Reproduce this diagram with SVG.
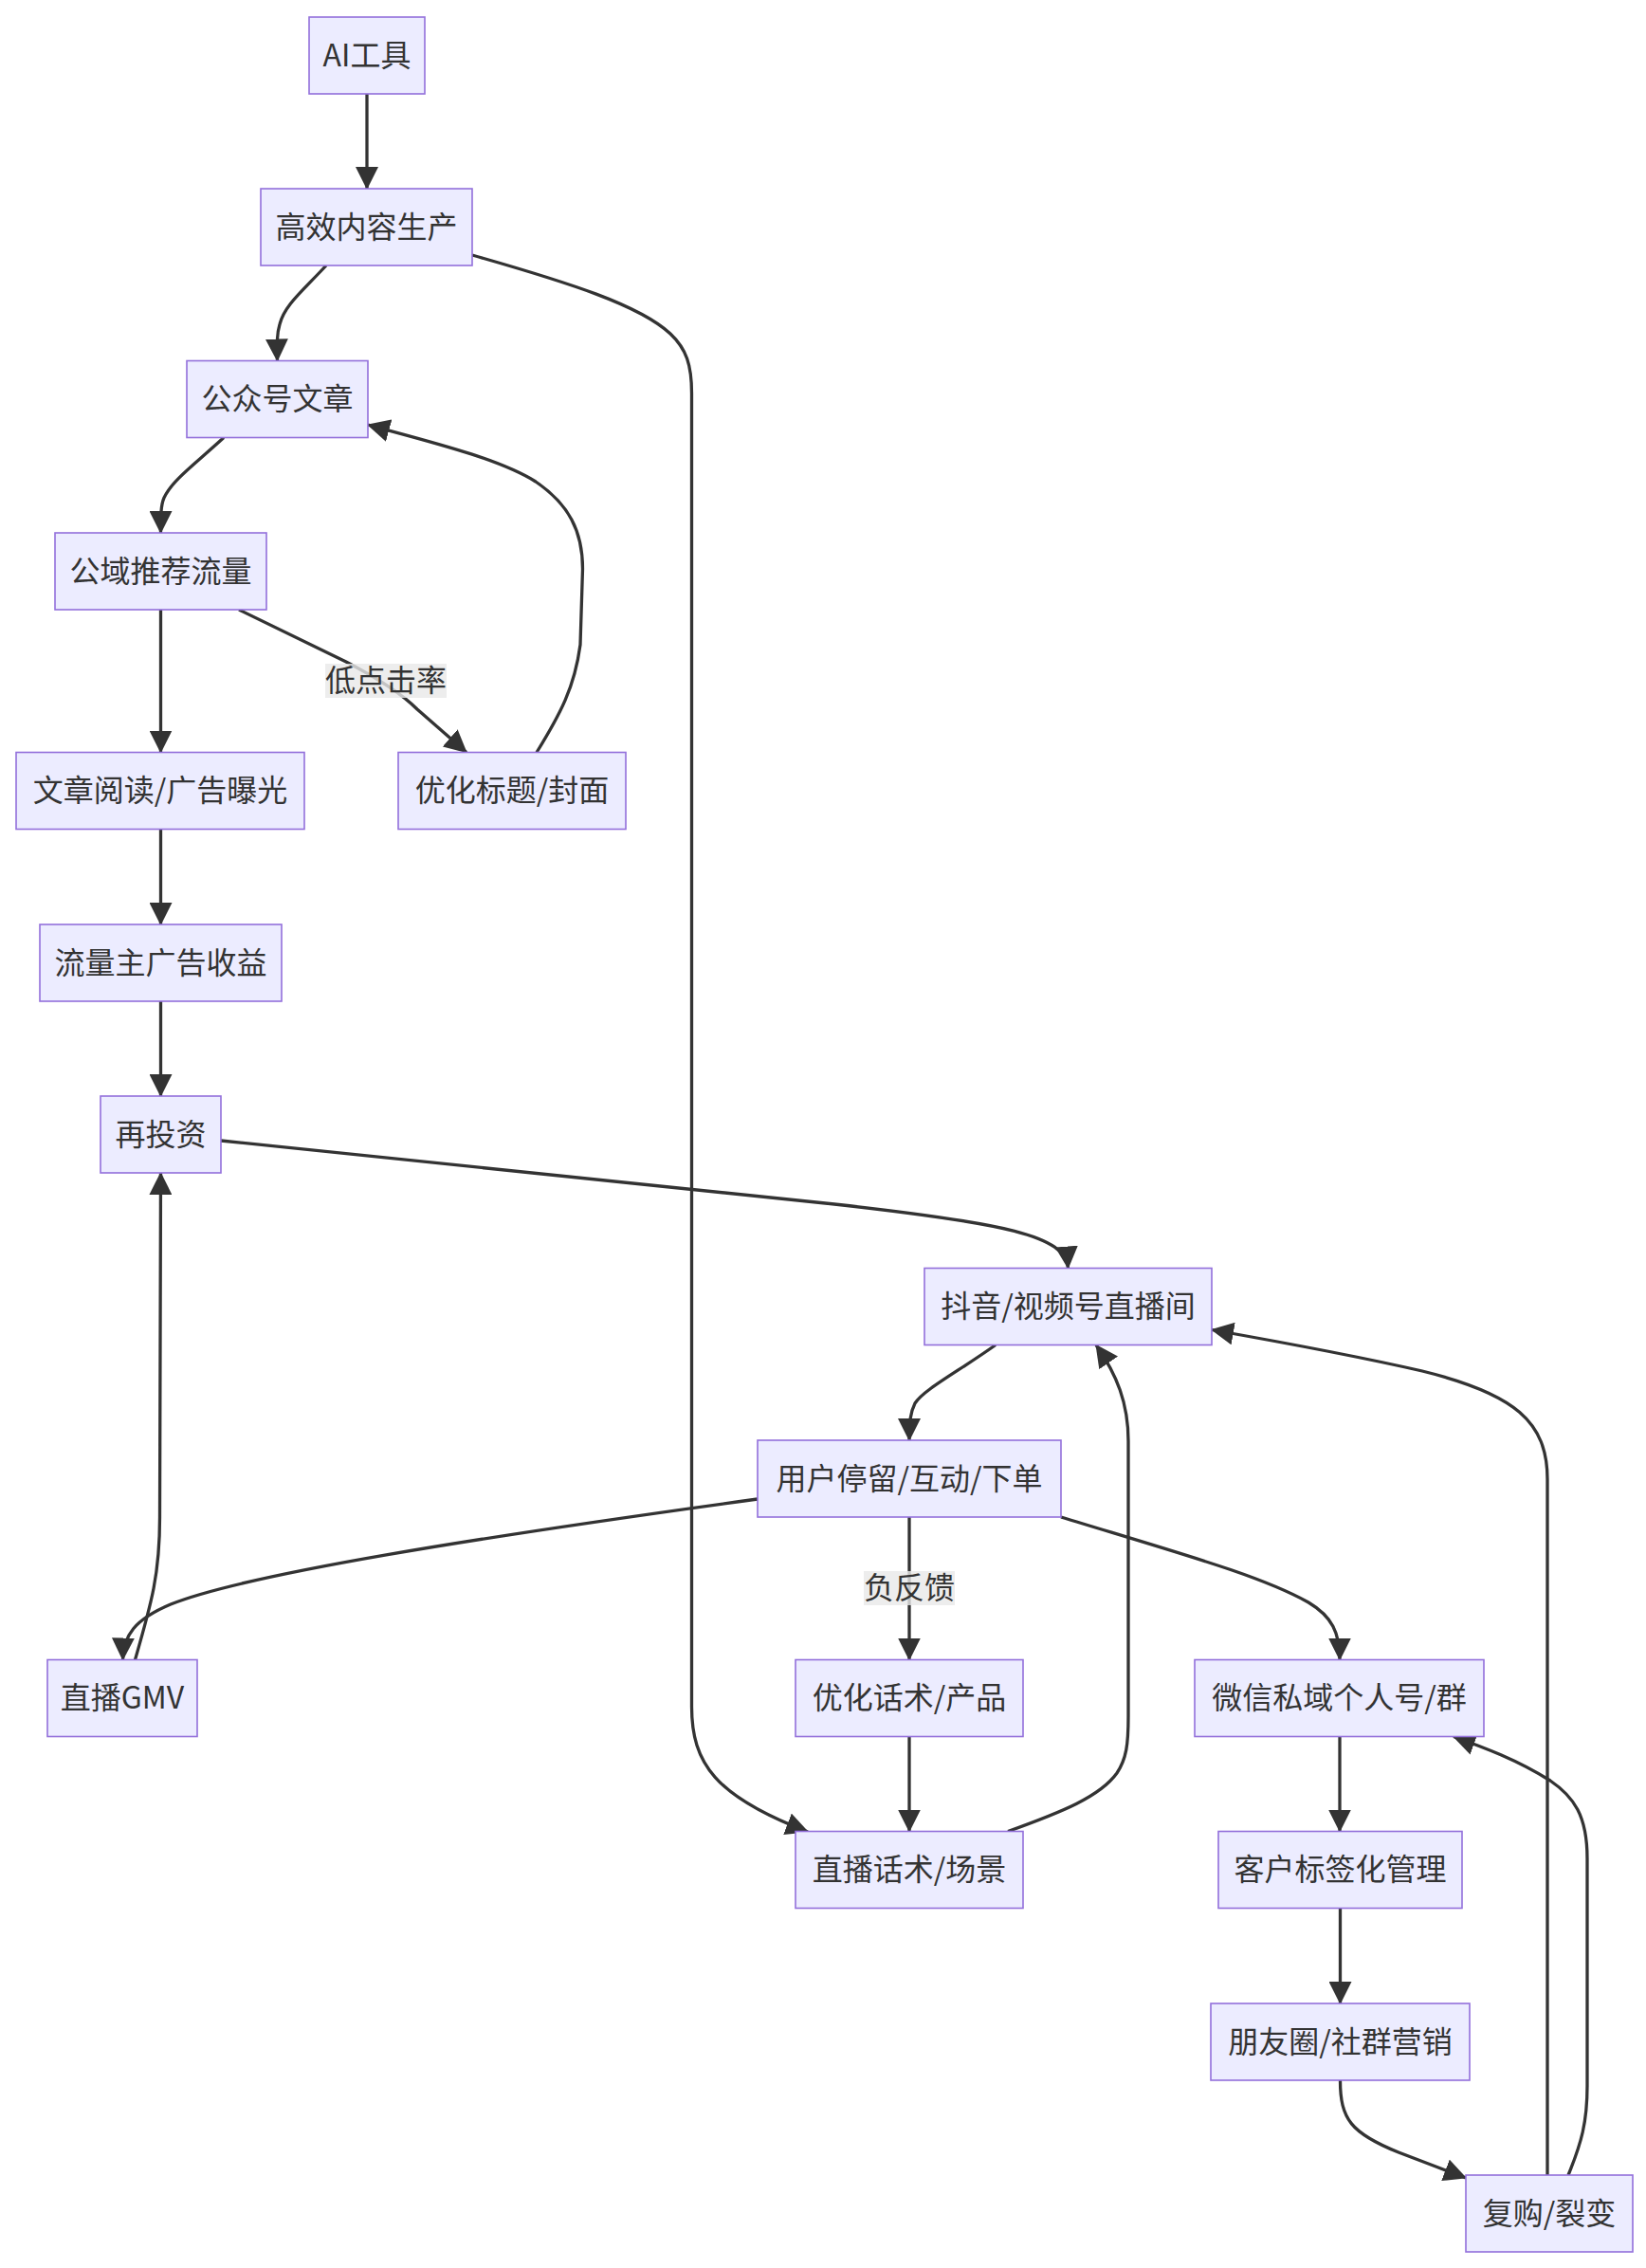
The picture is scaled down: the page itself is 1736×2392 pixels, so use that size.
<svg xmlns="http://www.w3.org/2000/svg" width="1736" height="2392" viewBox="0 0 1736 2392">
<style>
.node rect{fill:#ECECFF;stroke:#9370DB;stroke-width:1.6}
text{font-family:"Noto Sans CJK SC","Noto Sans CJK JP",sans-serif;font-size:32px;fill:#333;text-anchor:middle;dominant-baseline:central}
.edges path{fill:none;stroke:#333;stroke-width:3.3;marker-end:url(#arr)}
.lbl rect{fill:#e8e8e8;fill-opacity:0.8;stroke:none}
</style>
<defs>
<marker id="arr" viewBox="0 0 24 24" refX="23" refY="12" markerWidth="24" markerHeight="24" markerUnits="userSpaceOnUse" orient="auto">
<path d="M0,0 L24,12 L0,24 z" fill="#333"/>
</marker>
</defs>
<rect width="1736" height="2392" fill="#fff"/>
<g class="edges" id="connectors">
<path d="M387,99 L387,199"/>
<path d="M344,280 C318,308 300,322 295,342 C292,352 292,362 292.5,380.5"/>
<path d="M498,269 C600,298 675,322 707,352 C724,368 729.5,385 729.5,415 L729.5,1800 C729.5,1860 755,1895 852,1932"/>
<path d="M236,461.5 C205,490 182,506 173,525 C169.5,533 169.5,545 169.5,562"/>
<path d="M169.5,643 L169.5,793.5"/>
<path d="M252,643 L365,698 C390,711 420,728 440,748 L492,793.5"/>
<path d="M566,793.5 C591,753 606,725 612,680 L614.5,600 C614.5,560 600,532 565,508 C525,483 450,465 388,448"/>
<path d="M169.5,874.5 L169.5,975"/>
<path d="M169.5,1056 L169.5,1156"/>
<path d="M233,1203 L880,1270 C1060,1290 1124,1303 1126.5,1337.5"/>
<path d="M1050,1418.5 C1010,1447 975,1465 965,1480 C960,1490 959,1500 959,1519"/>
<path d="M799,1581 C500,1622 260,1660 180,1692 C142,1708 130,1725 129.5,1750.5"/>
<path d="M142.5,1750.5 C160,1690 168.5,1660 168.5,1600 L169.5,1237"/>
<path d="M959,1600 L959,1750.5"/>
<path d="M1119,1600 C1250,1640 1330,1662 1380,1690 C1405,1705 1413,1722 1413,1750.5"/>
<path d="M959,1831.5 L959,1931.5"/>
<path d="M1063,1931.5 C1120,1911 1160,1895 1178,1870 C1188,1855 1190,1840 1190,1810 L1190,1520 C1190,1480 1178,1450 1156,1418.5"/>
<path d="M1413,1831.5 L1413,1931.5"/>
<path d="M1413.5,2012.5 L1413.5,2113"/>
<path d="M1413.5,2194 C1413.5,2235 1425,2250 1475,2270 L1546,2297"/>
<path d="M1632,2294 L1632,1560 C1632,1500 1598,1470 1500,1446 C1430,1430 1360,1417 1278,1402.5"/>
<path d="M1654,2294 C1668,2260 1674,2238 1674,2200 L1674,1960 C1674,1915 1660,1895 1635,1878 C1600,1856 1565,1843 1533,1831.5"/>
</g>
<g class="lbl" id="label-low-ctr"><rect x="343" y="700" width="128" height="36"/><text x="407" y="715">低点击率</text></g>
<g class="lbl" id="label-neg"><rect x="911" y="1657" width="96" height="36"/><text x="959" y="1672">负反馈</text></g>
<g class="node" id="n-ai"><rect x="326" y="18" width="122" height="81"/><text x="387" y="55.5">AI工具</text></g>
<g class="node" id="n-content"><rect x="275" y="199" width="223" height="81"/><text x="386.5" y="236.5">高效内容生产</text></g>
<g class="node" id="n-article"><rect x="197" y="380.5" width="191" height="81"/><text x="292.5" y="418">公众号文章</text></g>
<g class="node" id="n-public"><rect x="58" y="562" width="223" height="81"/><text x="169.5" y="599.5">公域推荐流量</text></g>
<g class="node" id="n-read"><rect x="17" y="793.5" width="304" height="81"/><text x="169" y="831">文章阅读/广告曝光</text></g>
<g class="node" id="n-opt-title"><rect x="420" y="793.5" width="240" height="81"/><text x="540" y="831">优化标题/封面</text></g>
<g class="node" id="n-adincome"><rect x="42" y="975" width="255" height="81"/><text x="169.5" y="1012.5">流量主广告收益</text></g>
<g class="node" id="n-reinvest"><rect x="106" y="1156" width="127" height="81"/><text x="169.5" y="1193.5">再投资</text></g>
<g class="node" id="n-live"><rect x="975" y="1337.5" width="303" height="81"/><text x="1126.5" y="1375">抖音/视频号直播间</text></g>
<g class="node" id="n-user"><rect x="799" y="1519" width="320" height="81"/><text x="959" y="1556.5">用户停留/互动/下单</text></g>
<g class="node" id="n-gmv"><rect x="50" y="1750.5" width="158" height="81"/><text x="129" y="1788">直播GMV</text></g>
<g class="node" id="n-opt-talk"><rect x="839" y="1750.5" width="240" height="81"/><text x="959" y="1788">优化话术/产品</text></g>
<g class="node" id="n-wechat"><rect x="1260" y="1750.5" width="305" height="81"/><text x="1412.5" y="1788">微信私域个人号/群</text></g>
<g class="node" id="n-script"><rect x="839" y="1931.5" width="240" height="81"/><text x="959" y="1969">直播话术/场景</text></g>
<g class="node" id="n-tag"><rect x="1285" y="1931.5" width="257" height="81"/><text x="1413.5" y="1969">客户标签化管理</text></g>
<g class="node" id="n-moments"><rect x="1277" y="2113" width="273" height="81"/><text x="1413.5" y="2150.5">朋友圈/社群营销</text></g>
<g class="node" id="n-repurchase"><rect x="1546" y="2294" width="176" height="81"/><text x="1634" y="2331.5">复购/裂变</text></g>
</svg>
